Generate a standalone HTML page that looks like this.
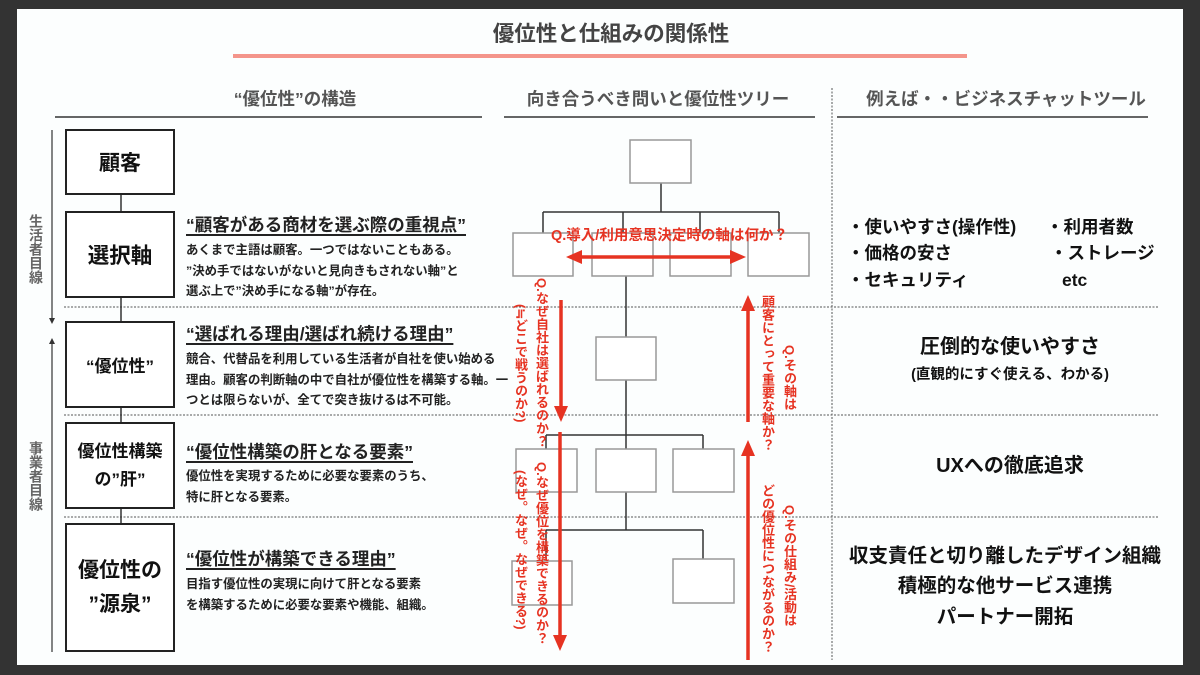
<!DOCTYPE html>
<html><head><meta charset="utf-8">
<style>
*{margin:0;padding:0;box-sizing:border-box}
body{width:1200px;height:675px;background:#333;position:relative;overflow:hidden;font-family:"Liberation Sans","Noto Sans CJK JP",sans-serif;font-weight:bold}
#page{position:absolute;left:17px;top:9px;width:1166px;height:656px;background:#fcfefe}
svg{position:absolute;left:0;top:0}
.t{position:absolute;white-space:nowrap;line-height:1}
.c{transform:translateX(-50%)}
.h{font-size:17.5px;color:#222;text-decoration:underline;text-underline-offset:3px;text-decoration-thickness:1.5px}
.b{font-size:12.4px;color:#222;line-height:20.5px}
.box{position:absolute;left:65px;width:110px;border:2px solid #222;background:#fff;display:flex;align-items:center;justify-content:center;text-align:center;color:#111}
.v{position:absolute;writing-mode:vertical-rl;color:#e63322;font-size:13px;line-height:1;white-space:nowrap}
.r{position:absolute;color:#111;white-space:nowrap;line-height:1}
</style></head><body>
<div id="page"></div>
<svg width="1200" height="675" viewBox="0 0 1200 675">
 <line x1="233" y1="56" x2="967" y2="56" stroke="#f4958b" stroke-width="4"/>
 <g stroke="#333" stroke-width="1.5">
  <line x1="55" y1="117" x2="482" y2="117"/>
  <line x1="504" y1="117" x2="815" y2="117"/>
  <line x1="837" y1="117" x2="1148" y2="117"/>
 </g>
 <g stroke="#555" stroke-width="1" stroke-dasharray="2,1.5">
  <line x1="832" y1="88" x2="832" y2="660"/>
  <line x1="64" y1="307" x2="1158" y2="307"/>
  <line x1="64" y1="415" x2="1158" y2="415"/>
  <line x1="64" y1="517" x2="1158" y2="517"/>
 </g>
 <g stroke="#333" stroke-width="1.2" fill="#333">
  <line x1="52" y1="130" x2="52" y2="320"/>
  <polygon points="49,318 55,318 52,324" stroke="none"/>
  <line x1="52" y1="342" x2="52" y2="652"/>
  <polygon points="49,344 55,344 52,338" stroke="none"/>
 </g>
 <g stroke="#333" stroke-width="1.5">
  <line x1="121" y1="195" x2="121" y2="211"/>
  <line x1="121" y1="298" x2="121" y2="321"/>
  <line x1="121" y1="408" x2="121" y2="422"/>
  <line x1="121" y1="509" x2="121" y2="523"/>
 </g>
 <g stroke="#333" stroke-width="1.5" fill="none">
  <line x1="661" y1="183" x2="661" y2="212"/>
  <line x1="543" y1="212" x2="779" y2="212"/>
  <line x1="543" y1="212" x2="543" y2="233"/>
  <line x1="623" y1="212" x2="623" y2="233"/>
  <line x1="700" y1="212" x2="700" y2="233"/>
  <line x1="779" y1="212" x2="779" y2="233"/>
  <line x1="626" y1="276" x2="626" y2="337"/>
  <line x1="626" y1="380" x2="626" y2="449"/>
  <line x1="546" y1="435" x2="703" y2="435"/>
  <line x1="546" y1="435" x2="546" y2="449"/>
  <line x1="703" y1="435" x2="703" y2="449"/>
  <line x1="626" y1="492" x2="626" y2="530"/>
  <line x1="546" y1="530" x2="703" y2="530"/>
  <line x1="546" y1="530" x2="546" y2="561"/>
  <line x1="703" y1="530" x2="703" y2="559"/>
 </g>
 <g stroke="#999" stroke-width="1.5" fill="#fff">
  <rect x="630" y="140" width="61" height="43"/>
  <rect x="513" y="233" width="60" height="43"/>
  <rect x="592" y="233" width="61" height="43"/>
  <rect x="670" y="233" width="61" height="43"/>
  <rect x="748" y="233" width="61" height="43"/>
  <rect x="596" y="337" width="60" height="43"/>
  <rect x="516" y="449" width="61" height="43"/>
  <rect x="596" y="449" width="60" height="43"/>
  <rect x="673" y="449" width="61" height="43"/>
  <rect x="512" y="561" width="60" height="44"/>
  <rect x="673" y="559" width="61" height="44"/>
 </g>
 <g stroke="#e63322" stroke-width="3.5" fill="#e63322">
  <line x1="578" y1="257" x2="734" y2="257"/>
  <polygon points="566,257 582,250 582,264" stroke="none"/>
  <polygon points="746,257 730,250 730,264" stroke="none"/>
  <line x1="561" y1="300" x2="561" y2="410"/>
  <polygon points="561,422 554,406 568,406" stroke="none"/>
  <line x1="748" y1="307" x2="748" y2="422"/>
  <polygon points="748,295 741,311 755,311" stroke="none"/>
  <line x1="560" y1="432" x2="560" y2="638"/>
  <polygon points="560,651 553,635 567,635" stroke="none"/>
  <line x1="748" y1="452" x2="748" y2="660"/>
  <polygon points="748,440 741,456 755,456" stroke="none"/>
 </g>
</svg>

<div class="t c" style="left:611px;top:24px;font-size:21.5px;color:#444">優位性と仕組みの関係性</div>
<div class="t c" style="left:295px;top:91px;font-size:17.5px;color:#555">“優位性”の構造</div>
<div class="t c" style="left:658px;top:91px;font-size:17.5px;color:#555">向き合うべき問いと優位性ツリー</div>
<div class="t c" style="left:1006px;top:91px;font-size:17.5px;color:#555">例えば・・ビジネスチャットツール</div>

<div class="t" style="left:29px;top:214px;writing-mode:vertical-rl;font-size:14px;color:#666">生活者目線</div>
<div class="t" style="left:29px;top:441px;writing-mode:vertical-rl;font-size:14px;color:#666">事業者目線</div>

<div class="box" style="top:129px;height:66px;font-size:21px">顧客</div>
<div class="box" style="top:211px;height:87px;font-size:21.5px">選択軸</div>
<div class="box" style="top:321px;height:87px;font-size:17px">“優位性”</div>
<div class="box" style="top:422px;height:87px;font-size:17px;line-height:28px">優位性構築<br>の”肝”</div>
<div class="box" style="top:523px;height:129px;font-size:21px;line-height:34px">優位性の<br>”源泉”</div>

<div class="t h" style="left:186px;top:217px">“顧客がある商材を選ぶ際の重視点”</div>
<div class="t b" style="left:186px;top:240px">あくまで主語は顧客。一つではないこともある。<br>”決め手ではないがないと見向きもされない軸”と<br>選ぶ上で”決め手になる軸”が存在。</div>
<div class="t h" style="left:186px;top:326px">“選ばれる理由/選ばれ続ける理由”</div>
<div class="t b" style="left:186px;top:349px">競合、代替品を利用している生活者が自社を使い始める<br>理由。顧客の判断軸の中で自社が優位性を構築する軸。一<br>つとは限らないが、全てで突き抜けるは不可能。</div>
<div class="t h" style="left:186px;top:444px">“優位性構築の肝となる要素”</div>
<div class="t b" style="left:186px;top:466px">優位性を実現するために必要な要素のうち、<br>特に肝となる要素。</div>
<div class="t h" style="left:186px;top:551px">“優位性が構築できる理由”</div>
<div class="t b" style="left:186px;top:574px">目指す優位性の実現に向けて肝となる要素<br>を構築するために必要な要素や機能、組織。</div>

<div class="t" style="left:551px;top:229px;font-size:14.5px;color:#e63322">Q.導入/利用意思決定時の軸は何か？</div>
<div class="v" style="left:535px;top:278px">Q.なぜ自社は選ばれるのか？</div>
<div class="v" style="left:514px;top:304px">(≒どこで戦うのか?)</div>
<div class="v" style="left:761px;top:295px">顧客にとって重要な軸か？</div>
<div class="v" style="left:783px;top:345px">Q.その軸は</div>
<div class="v" style="left:535px;top:462px">Q.なぜ優位を構築できるのか？</div>
<div class="v" style="left:514px;top:470px">(なぜ。なぜ。なぜできる?)</div>
<div class="v" style="left:761px;top:484px">どの優位性につながるのか？</div>
<div class="v" style="left:783px;top:505px">Q.その仕組み/活動は</div>

<div class="r" style="left:847px;top:219px;font-size:17.5px">・使いやすさ(操作性)</div>
<div class="r" style="left:847px;top:245px;font-size:17.5px">・価格の安さ</div>
<div class="r" style="left:847px;top:272px;font-size:17.5px">・セキュリティ</div>
<div class="r" style="left:1046px;top:219px;font-size:17.5px">・利用者数</div>
<div class="r" style="left:1050px;top:245px;font-size:17.5px">・ストレージ</div>
<div class="r" style="left:1062px;top:272px;font-size:17.5px">etc</div>
<div class="r c" style="left:1010px;top:337px;font-size:20px">圧倒的な使いやすさ</div>
<div class="r c" style="left:1010px;top:368px;font-size:14.5px">(直観的にすぐ使える、わかる)</div>
<div class="r c" style="left:1010px;top:456px;font-size:20px">UXへの徹底追求</div>
<div class="r c" style="left:1005px;top:547px;font-size:19.5px">収支責任と切り離したデザイン組織</div>
<div class="r c" style="left:1005px;top:577px;font-size:19.5px">積極的な他サービス連携</div>
<div class="r c" style="left:1005px;top:608px;font-size:19.5px">パートナー開拓</div>
</body></html>
